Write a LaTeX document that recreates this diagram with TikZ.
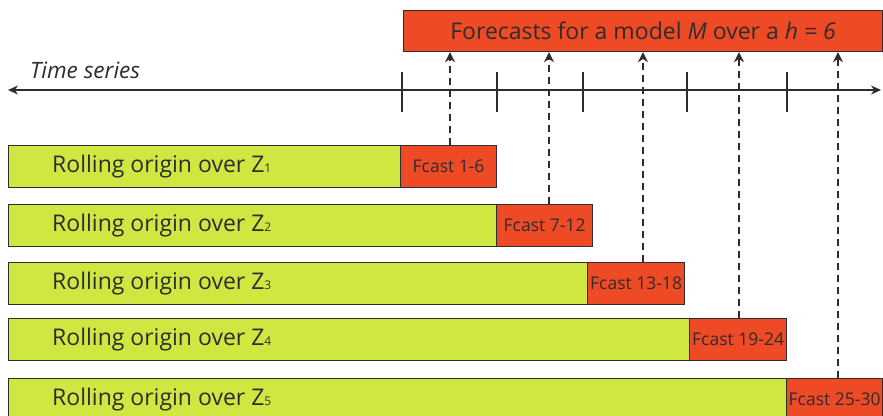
\documentclass[tikz,border=0pt]{standalone}
\usepackage{fontspec}
\setmainfont{Open Sans}
\usetikzlibrary{arrows.meta}
\definecolor{limefill}{RGB}{208,231,66}
\definecolor{fcastfill}{RGB}{238,74,38}
\definecolor{ink}{RGB}{45,45,45}
\newcommand{\zsub}[1]{{\fontsize{12}{12}\selectfont #1}}
\begin{document}
\begin{tikzpicture}[x=1pt,y=-1pt,
  every node/.style={text=ink},
  block/.style={draw=ink, line width=1.2pt, inner sep=0pt},
  trainbox/.style={block, fill=limefill},
  fcastbox/.style={block, fill=fcastfill, font=\fontsize{17.5}{17.5}\selectfont},
  rolltext/.style={anchor=west, inner sep=0pt, font=\fontsize{23}{23}\selectfont},
  axisline/.style={ink, line width=1.2pt},
  feed/.style={ink, line width=1.4pt, dash pattern=on 7pt off 5pt, -{Stealth[length=10pt,width=10pt]}}
]
\clip (0,0) rectangle (883,415);
\fill[white] (0,0) rectangle (883,415);

% headline box
\node[block, fill=fcastfill, minimum width=479pt, minimum height=41pt, anchor=north west,
      font=\fontsize{23}{23}\selectfont] (title) at (403,10)
      {Forecasts for a model \textit{M} over a \textit{h = 6}};

% time axis
\coordinate (axL) at (8,90);
\coordinate (axR) at (881,90);
\draw[axisline, {Stealth[length=10pt,width=9pt]}-{Stealth[length=10pt,width=9pt]}] (axL) -- (axR);
\node[inner sep=0pt, anchor=base west, font=\fontsize{22.5}{22.5}\selectfont\itshape] (ts) at (30,78) {Time series};
\foreach \t in {402,497,583,687,787}
  \draw[axisline] (\t,72) -- (\t,112);

% rolling-origin rows: top, bottom, split, right end, arrow x, range, index
\foreach \top/\bot/\split/\rend/\ax/\rng/\i in {
    145/187/400/496/450/1-6/1,
    204/246/496/592/549/7-12/2,
    262/304/587/684/643/13-18/3,
    318/360/689/786/739/19-24/4,
    378/420/786/882/838/25-30/5}{
  \pgfmathsetmacro{\gw}{\split-8}
  \pgfmathsetmacro{\fw}{\rend-\split}
  \pgfmathsetmacro{\hh}{\bot-\top}
  \node[trainbox, minimum width=\gw pt, minimum height=\hh pt, anchor=north west] (z\i) at (8,\top) {};
  \node[fcastbox, minimum width=\fw pt, minimum height=\hh pt, anchor=north west] (f\i) at (\split,\top) {Fcast \rng};
  \node[rolltext] (r\i) at ([xshift=44pt]z\i.west) {Rolling origin over Z\zsub{\i}};
  \draw[feed] (f\i.north -| \ax,0) -- (title.south -| \ax,0);
}
\end{tikzpicture}
\end{document}
